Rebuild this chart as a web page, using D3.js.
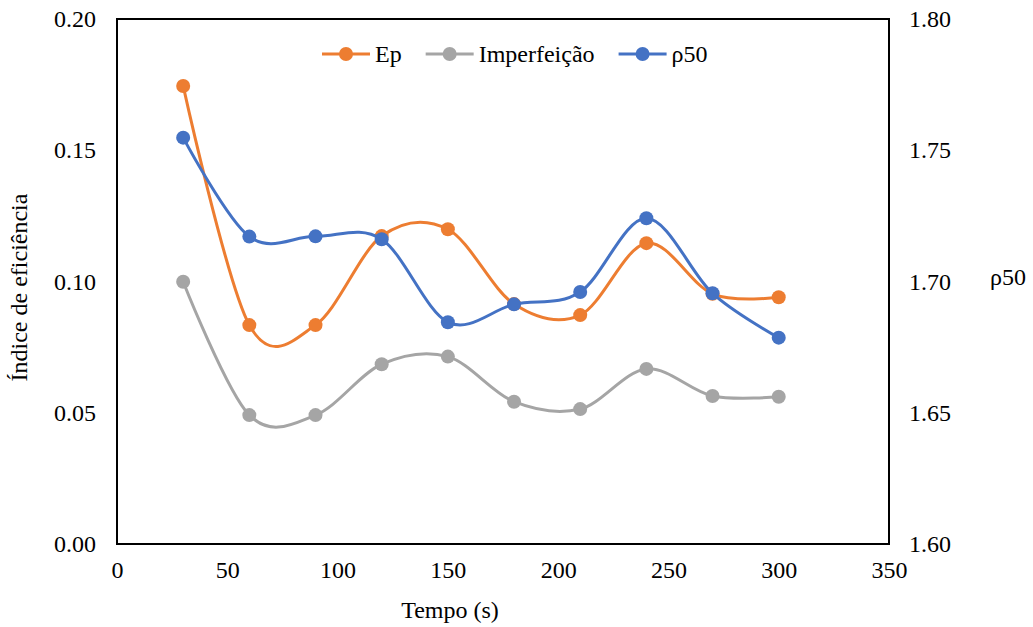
<!DOCTYPE html>
<html>
<head>
<meta charset="utf-8">
<script src="https://cdn.jsdelivr.net/npm/d3@7"></script>
<style>
  html, body { margin: 0; padding: 0; background: #fff; }
  svg text { font-family: "Liberation Serif", "DejaVu Serif", serif; fill: #000; }
</style>
</head>
<body>
<svg id="chart" width="1033" height="627"></svg>
<script>
// Sampling times (s)
const tempo = [30, 60, 90, 120, 150, 180, 210, 240, 270, 300];
// Efficiency indices (left axis)
const ep = [0.1745, 0.0834, 0.0834, 0.1173, 0.1199, 0.0914, 0.0872, 0.1146, 0.0953, 0.0940];
const imperfeicao = [0.0999, 0.0491, 0.0491, 0.0685, 0.0714, 0.0542, 0.0514, 0.0667, 0.0564, 0.0561];
// Cut density (right axis)
const rho50 = [1.7548, 1.7171, 1.7172, 1.7161, 1.6845, 1.6913, 1.6960, 1.7241, 1.6955, 1.6786];

const xTicks = [0, 50, 100, 150, 200, 250, 300, 350];
const yLeftTicks = [0, 0.05, 0.10, 0.15, 0.20];
const yRightTicks = [1.60, 1.65, 1.70, 1.75, 1.80];

const seriesNames = ["Ep", "Imperfeição", "ρ50"];
const colors = ["#ED7D31", "#A5A5A5", "#4472C4"];

const FONT = '"Liberation Serif", "DejaVu Serif", serif';
const svg = d3.select("#chart");
const m = { left: 117, right: 889, top: 19, bottom: 544 };
const fontSize = 24;

const x = d3.scaleLinear().domain([0, 350]).range([m.left, m.right]);
const yL = d3.scaleLinear().domain([0, 0.2]).range([m.bottom, m.top]);
const yR = d3.scaleLinear().domain([1.6, 1.8]).range([m.bottom, m.top]);

// Axes: labels only, no tick marks
const axisStyle = g => {
  g.attr("font-family", FONT).attr("font-size", fontSize);
  g.select(".domain").remove();
  g.selectAll(".tick line").remove();
  g.selectAll("text").attr("fill", "#000");
};

svg.append("g")
  .attr("transform", `translate(0,${m.bottom})`)
  .call(d3.axisBottom(x).tickValues(xTicks).tickFormat(d3.format("d")).tickSize(0).tickPadding(17))
  .call(axisStyle);

svg.append("g")
  .attr("transform", `translate(${m.left},0)`)
  .call(d3.axisLeft(yL).tickValues(yLeftTicks).tickFormat(d3.format(".2f")).tickSize(0).tickPadding(21))
  .call(axisStyle);

svg.append("g")
  .attr("transform", `translate(${m.right},0)`)
  .call(d3.axisRight(yR).tickValues(yRightTicks).tickFormat(d3.format(".2f")).tickSize(0).tickPadding(20))
  .call(axisStyle);

// Axis titles
svg.append("text")
  .attr("x", 450).attr("y", 610)
  .attr("text-anchor", "middle").attr("dominant-baseline", "central")
  .attr("font-family", FONT).attr("font-size", fontSize)
  .text("Tempo (s)");

svg.append("text")
  .attr("transform", `translate(19,${(m.top + m.bottom) / 2 + 6}) rotate(-90)`)
  .attr("text-anchor", "middle").attr("dominant-baseline", "central")
  .attr("font-family", FONT).attr("font-size", fontSize)
  .text("Índice de eficiência");

svg.append("text")
  .attr("x", 990).attr("y", 277)
  .attr("dominant-baseline", "central")
  .attr("font-family", FONT).attr("font-size", fontSize)
  .text("ρ50");

// Series (smoothed lines with circular markers)
const curve = d3.curveCardinal.tension(0);
const series = [
  { name: seriesNames[0], values: ep, y: yL, color: colors[0] },
  { name: seriesNames[1], values: imperfeicao, y: yL, color: colors[1] },
  { name: seriesNames[2], values: rho50, y: yR, color: colors[2] }
];

const plot = svg.append("g");
series.forEach(s => {
  const pts = tempo.map((t, i) => [t, s.values[i]]);
  const line = d3.line().x(d => x(d[0])).y(d => s.y(d[1])).curve(curve);
  plot.append("path")
    .attr("d", line(pts))
    .attr("fill", "none")
    .attr("stroke", s.color)
    .attr("stroke-width", 3)
    .attr("stroke-linejoin", "round")
    .attr("stroke-linecap", "round");
  plot.selectAll(null).data(pts).enter().append("circle")
    .attr("cx", d => x(d[0]))
    .attr("cy", d => s.y(d[1]))
    .attr("r", 7)
    .attr("fill", s.color);
});

// Plot frame
svg.append("rect")
  .attr("x", m.left).attr("y", m.top)
  .attr("width", m.right - m.left).attr("height", m.bottom - m.top)
  .attr("fill", "none").attr("stroke", "#000").attr("stroke-width", 2);

// Legend
const legend = svg.append("g").attr("font-family", FONT).attr("font-size", fontSize);
let lx = 322;
const ly = 54;
series.forEach(s => {
  legend.append("line")
    .attr("x1", lx).attr("x2", lx + 48).attr("y1", ly).attr("y2", ly)
    .attr("stroke", s.color).attr("stroke-width", 3);
  legend.append("circle")
    .attr("cx", lx + 24).attr("cy", ly).attr("r", 7).attr("fill", s.color);
  const t = legend.append("text")
    .attr("x", lx + 53).attr("y", ly)
    .attr("dominant-baseline", "central")
    .text(s.name);
  lx += 53 + t.node().getComputedTextLength() + 24;
});
</script>
</body>
</html>
